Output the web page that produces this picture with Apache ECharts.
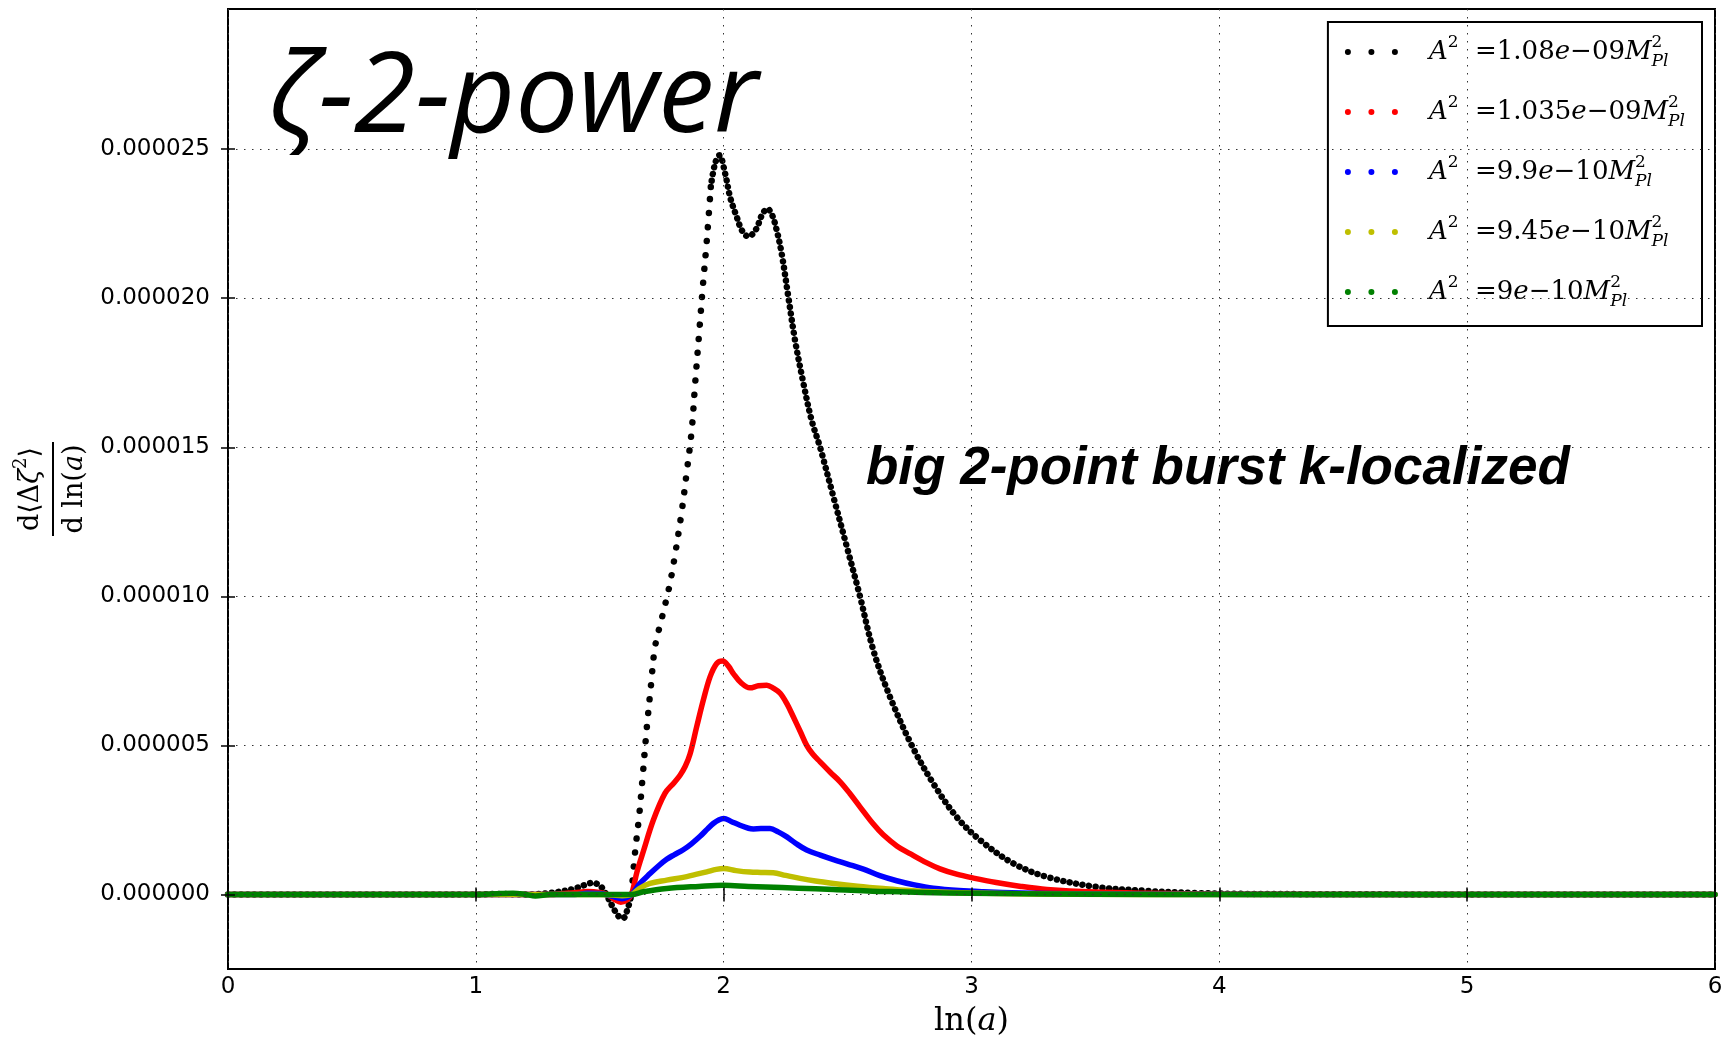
<!DOCTYPE html>
<html><head><meta charset="utf-8">
<script src="https://cdn.jsdelivr.net/npm/echarts@6/dist/echarts.min.js"></script>
<style>html,body{margin:0;padding:0;background:#fff}#c{width:1727px;height:1046px}</style>
</head><body><div id="c"></div>
<script>
const UNIT = 1e-6;

const seriesNames = ['A2=1.08e-09', 'A2=1.035e-09', 'A2=9.9e-10', 'A2=9.45e-10', 'A2=9e-10'];
const mantissas = ['1.08', '1.035', '9.9', '9.45', '9'];
const exponents = ['09', '09', '10', '10', '10'];
const colors = ['#000000', '#ff0000', '#0000ff', '#bfbf00', '#008000'];

const lnA_black = [0, 0.2, 0.4, 0.6, 0.8, 1.0, 1.1, 1.2, 1.25, 1.3, 1.35, 1.4, 1.44, 1.47, 1.5, 1.525, 1.55, 1.575, 1.594, 1.612, 1.628, 1.642, 1.66, 1.673, 1.689, 1.706, 1.723, 1.75, 1.78, 1.80, 1.83, 1.85, 1.871, 1.885, 1.902, 1.916, 1.932, 1.948, 1.965, 1.983, 2.006, 2.026, 2.053, 2.075, 2.10, 2.13, 2.155, 2.176, 2.195, 2.214, 2.234, 2.261, 2.288, 2.322, 2.355, 2.389, 2.443, 2.497, 2.55, 2.604, 2.671, 2.759, 2.846, 2.94, 3.035, 3.169, 3.304, 3.506, 3.707, 3.9, 4.1, 4.4, 5.0, 6.0];
const val_black = [0, 0, 0, 0, 0, 0, 0.02, 0, 0.01, 0.05, 0.11, 0.2, 0.32, 0.39, 0.3, 0.02, -0.38, -0.72, -0.8, -0.5, 0.0, 1.37, 2.72, 3.94, 5.51, 6.96, 8.3, 9.25, 10.3, 11.2, 12.8, 14.1, 15.57, 17.14, 18.92, 20.4, 21.94, 23.73, 24.51, 24.79, 24.18, 23.39, 22.72, 22.25, 22.07, 22.3, 22.8, 23.0, 22.8, 22.28, 21.5, 20.04, 18.59, 17.14, 15.9, 15.0, 13.33, 11.66, 10.0, 8.19, 6.63, 5.0, 3.72, 2.6, 1.82, 1.04, 0.59, 0.25, 0.12, 0.05, 0.02, 0.01, 0, 0];
// the fast-rising stretch of the black run, where its samples are sparse
const blackSparseFrom = 1.628, blackSparseTo = 1.948;

const lnA_red = [0, 0.5, 1.0, 1.3, 1.35, 1.4, 1.45, 1.5, 1.53, 1.56, 1.585, 1.61, 1.629, 1.65, 1.676, 1.716, 1.763, 1.80, 1.824, 1.845, 1.864, 1.891, 1.918, 1.945, 1.972, 1.996, 2.02, 2.039, 2.07, 2.106, 2.14, 2.174, 2.2, 2.228, 2.255, 2.281, 2.31, 2.335, 2.36, 2.389, 2.43, 2.47, 2.51, 2.55, 2.604, 2.644, 2.7, 2.752, 2.82, 2.873, 2.94, 3.008, 3.1, 3.2, 3.304, 3.5, 3.71, 4.0, 5.0, 6.0];
const val_red = [0, 0, 0, 0, 0.03, 0.06, 0.1, 0.07, 0, -0.17, -0.26, -0.18, 0.03, 0.75, 1.45, 2.49, 3.39, 3.75, 4.0, 4.3, 4.7, 5.62, 6.52, 7.3, 7.75, 7.83, 7.65, 7.41, 7.1, 6.93, 7.0, 7.02, 6.92, 6.75, 6.4, 5.96, 5.45, 5.0, 4.7, 4.45, 4.1, 3.78, 3.38, 2.94, 2.36, 2.0, 1.62, 1.37, 1.06, 0.86, 0.68, 0.55, 0.4, 0.27, 0.17, 0.08, 0.04, 0.01, 0, 0];

const lnA_blue = [0, 0.5, 1.0, 1.4, 1.45, 1.5, 1.55, 1.59, 1.629, 1.66, 1.703, 1.74, 1.77, 1.80, 1.837, 1.87, 1.905, 1.935, 1.958, 1.98, 2.0, 2.03, 2.066, 2.1, 2.12, 2.15, 2.187, 2.22, 2.255, 2.29, 2.335, 2.39, 2.443, 2.5, 2.564, 2.63, 2.698, 2.77, 2.846, 2.95, 3.048, 3.2, 3.4, 3.7, 5.0, 6.0];
const val_blue = [0, 0, 0, 0, 0.04, 0.03, -0.06, -0.14, 0, 0.35, 0.7, 0.98, 1.18, 1.33, 1.5, 1.7, 1.95, 2.2, 2.38, 2.5, 2.55, 2.45, 2.32, 2.22, 2.2, 2.21, 2.21, 2.1, 1.93, 1.72, 1.49, 1.32, 1.17, 1.02, 0.85, 0.63, 0.46, 0.32, 0.21, 0.13, 0.09, 0.05, 0.02, 0.01, 0, 0];

const lnA_yellow = [0, 0.5, 1.0, 1.5, 1.55, 1.59, 1.629, 1.66, 1.703, 1.77, 1.851, 1.932, 1.97, 2.0, 2.05, 2.106, 2.15, 2.2, 2.25, 2.308, 2.37, 2.443, 2.54, 2.644, 2.75, 2.846, 3.0, 3.115, 3.4, 4.0, 6.0];
const val_yellow = [0, 0, 0, 0, -0.02, -0.04, 0, 0.2, 0.37, 0.48, 0.6, 0.76, 0.84, 0.87, 0.8, 0.75, 0.74, 0.73, 0.64, 0.54, 0.45, 0.37, 0.28, 0.2, 0.13, 0.09, 0.05, 0.03, 0.01, 0, 0];

const lnA_green = [0, 0.5, 1.0, 1.1, 1.15, 1.2, 1.24, 1.3, 1.6, 1.629, 1.676, 1.77, 1.9, 2.0, 2.1, 2.17, 2.3, 2.443, 2.6, 2.71, 2.9, 3.1, 3.5, 4.0, 6.0];
const val_green = [0, 0, 0, 0.03, 0.04, 0, -0.05, 0, 0, 0, 0.09, 0.2, 0.27, 0.31, 0.27, 0.25, 0.21, 0.17, 0.11, 0.09, 0.05, 0.03, 0.01, 0, 0];

const xTicks = [0, 1, 2, 3, 4, 5, 6];
const yTicks = [0, 5e-6, 1e-5, 1.5e-5, 2e-5, 2.5e-5];

const xs = [lnA_black, lnA_red, lnA_blue, lnA_yellow, lnA_green];
const vs = [val_black, val_red, val_blue, val_yellow, val_green];

const serif = '"DejaVu Serif"';
const legendRich = {
  sp: { width: 26 },
  A: { fontFamily: serif, fontStyle: 'italic', fontSize: 26, lineHeight: 36, color: '#000' },
  t: { fontFamily: serif, fontSize: 26, lineHeight: 36, color: '#000' },
  e: { fontFamily: serif, fontStyle: 'italic', fontSize: 26, lineHeight: 36, color: '#000' },
  sup: { fontFamily: serif, fontSize: 17, lineHeight: 20, verticalAlign: 'top', color: '#000' },
  sup0: { fontFamily: serif, fontSize: 17, lineHeight: 20, verticalAlign: 'top', width: 0, align: 'left', color: '#000' },
  sub: { fontFamily: serif, fontStyle: 'italic', fontSize: 17, lineHeight: 20, verticalAlign: 'bottom', color: '#000' }
};
function legendText(i) {
  return '{sp|}{A|A}{sup|2}{t|  =' + mantissas[i] + '}{e|e}{t|\u2212' + exponents[i] + '}{A|M}{sup0|2}{sub|Pl}';
}

const series = [];
xs.forEach((xArr, i) => {
  const pts = xArr.map((x, k) => [x, vs[i][k] * UNIT]);
  if (i === 0) {
    // dense samples: everything outside the sparse rising stretch (gap left there)
    series.push({
      name: seriesNames[i], type: 'line', showSymbol: false, smooth: 0.35, connectNulls: false,
      data: pts.map(p => (p[0] > blackSparseFrom && p[0] < blackSparseTo) ? [p[0], null] : p),
      color: colors[i], lineStyle: { color: colors[i], width: 6.5, type: [0.01, 6.6], cap: 'round' }, z: 2
    });
    // sparse samples on the fast rise
    series.push({
      name: seriesNames[i], type: 'line', showSymbol: false, smooth: 0.35,
      data: pts.filter(p => p[0] >= blackSparseFrom && p[0] <= blackSparseTo),
      color: colors[i], lineStyle: { color: colors[i], width: 6.5, type: [0.01, 14], cap: 'round' }, z: 2
    });
  } else {
    series.push({
      name: seriesNames[i], type: 'line', showSymbol: false, smooth: 0.35, data: pts,
      color: colors[i], lineStyle: { color: colors[i], width: 5.5, cap: 'round', join: 'round' }, z: 2 + i
    });
  }
});

const chart = echarts.init(document.getElementById('c'), null, { renderer: 'canvas' });
const gridLine = { show: true, lineStyle: { color: '#333', width: 1, type: [1.5, 6.5] } };

chart.setOption({
  backgroundColor: '#fff',
  animation: false,
  grid: { left: 228, right: 12, top: 9, bottom: 77, show: true, borderColor: '#000', borderWidth: 2, backgroundColor: 'transparent' },
  xAxis: [{
    type: 'value', min: 0, max: 6, interval: 1, z: 10,
    axisLine: { show: false },
    axisTick: { show: true, inside: true, length: 7, lineStyle: { color: '#000', width: 1.5 } },
    axisLabel: { fontFamily: '"DejaVu Sans"', fontSize: 23, color: '#000', margin: 7 },
    splitLine: gridLine,
    name: '{r|ln(}{i|a}{r|)}', nameLocation: 'middle', nameGap: 37,
    nameTextStyle: { rich: {
      r: { fontFamily: serif, fontSize: 32, color: '#000' },
      i: { fontFamily: serif, fontStyle: 'italic', fontSize: 32, color: '#000' } } }
  }, {
    type: 'value', min: 0, max: 6, interval: 1, position: 'top', z: 10,
    axisLine: { show: false }, axisLabel: { show: false }, splitLine: { show: false },
    axisTick: { show: true, inside: true, length: 7, lineStyle: { color: '#000', width: 1.5 } }
  }],
  yAxis: [{
    type: 'value', min: -2.5e-6, max: 2.97e-5, z: 10,
    axisLine: { show: false },
    axisTick: { show: true, inside: true, length: 7, customValues: yTicks, lineStyle: { color: '#000', width: 1.5 } },
    axisLabel: { customValues: yTicks, fontFamily: '"DejaVu Sans"', fontSize: 23, color: '#000', margin: 18,
      formatter: v => v.toFixed(6) },
    splitLine: gridLine,
    name: '{n|d\u27e8\u0394}{ni|\u03b6}{ns|2}{n|\u27e9}\n{bar| }\n{n|d ln(}{ni|a}{n|)}',
    nameLocation: 'middle', nameRotate: 90, nameGap: 134,
    nameTextStyle: { align: 'center', rich: {
      n: { fontFamily: serif, fontSize: 27, lineHeight: 38, color: '#000' },
      ni: { fontFamily: serif, fontStyle: 'italic', fontSize: 27, lineHeight: 38, color: '#000' },
      ns: { fontFamily: serif, fontSize: 18, lineHeight: 24, verticalAlign: 'top', color: '#000' },
      bar: { width: 94, height: 2, lineHeight: 6, fontSize: 1, backgroundColor: '#000' } } }
  }, {
    type: 'value', min: -2.5e-6, max: 2.97e-5, position: 'right', z: 10,
    axisLine: { show: false }, axisLabel: { show: false }, splitLine: { show: false },
    axisTick: { show: true, inside: true, length: 7, customValues: yTicks, lineStyle: { color: '#000', width: 1.5 } }
  }],
  legend: {
    show: true, orient: 'vertical', right: 25, top: 22,
    padding: [12, 17, 16, 17],
    itemGap: 24, itemWidth: 53, itemHeight: 6,
    icon: 'path://M0,3a3,3 0 1,0 6,0a3,3 0 1,0 -6,0zM23.5,3a3,3 0 1,0 6,0a3,3 0 1,0 -6,0zM47,3a3,3 0 1,0 6,0a3,3 0 1,0 -6,0z',
    itemStyle: { borderWidth: 0 },
    borderColor: '#000', borderWidth: 2, backgroundColor: '#fff',
    data: seriesNames,
    formatter: name => legendText(seriesNames.indexOf(name)),
    textStyle: { rich: legendRich }
  },
  graphic: [
    { type: 'text', x: 268, y: 100, z: 20,
      style: { text: '\u03b6-2-power', fontFamily: '"Open Sans"', fontStyle: 'italic', fontSize: 112, fill: '#000', align: 'left', verticalAlign: 'middle' } },
    { type: 'text', x: 866, y: 469, z: 20,
      style: { text: 'big 2-point burst k-localized', fontFamily: '"Liberation Sans"', fontStyle: 'italic', fontWeight: 'bold', fontSize: 53, fill: '#000', align: 'left', verticalAlign: 'middle' } }
  ],
  series: series
});
</script></body></html>
